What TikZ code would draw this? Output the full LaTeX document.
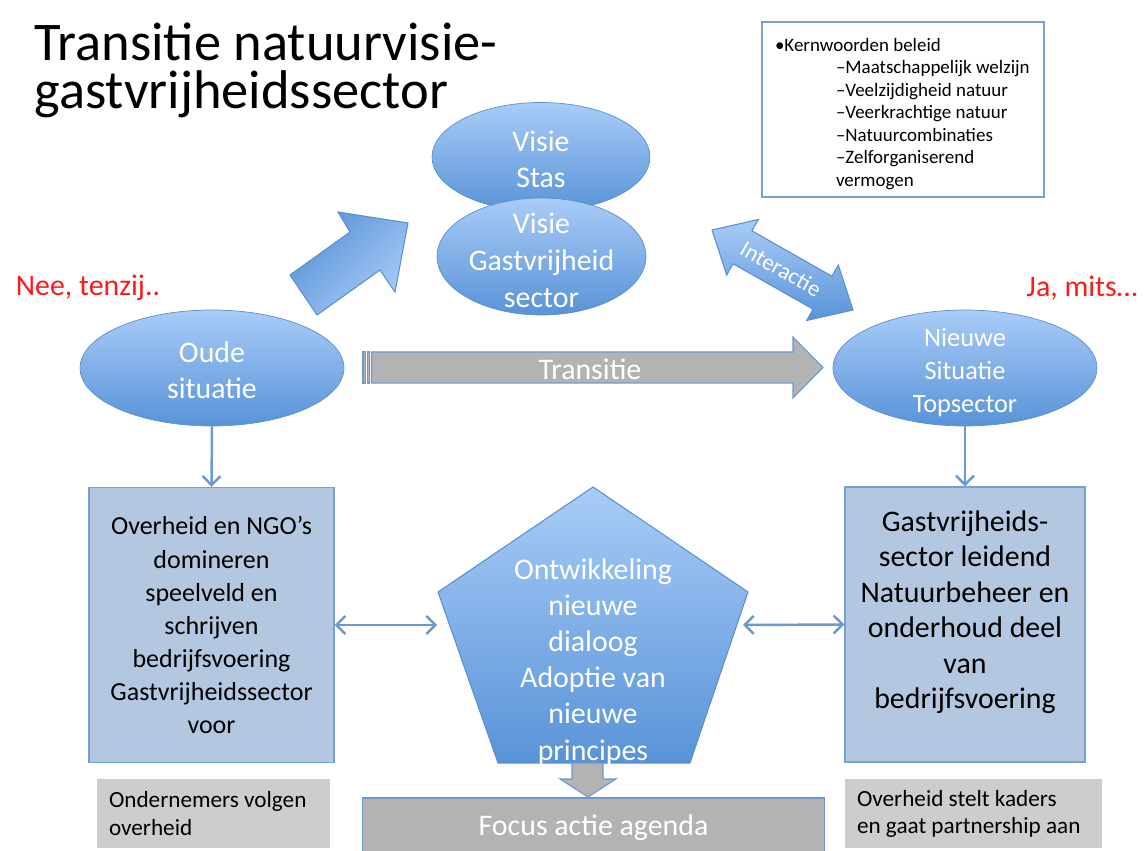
\documentclass[tikz,border=0pt]{standalone}
\usepackage{fontspec}
\setmainfont{Carlito}
\usetikzlibrary{arrows.meta,positioning,shapes.geometric}
\usepackage{xcolor}
\definecolor{cbubtop}{HTML}{A9CCF7}
\definecolor{cbubbot}{HTML}{5893D8}
\definecolor{cbubline}{HTML}{5E8FCC}
\definecolor{cpanel}{HTML}{B4C7E1}
\definecolor{cpanelline}{HTML}{75A0D4}
\definecolor{clink}{HTML}{6D99CF}
\definecolor{cgrey}{HTML}{B3B3B3}
\definecolor{cnote}{HTML}{CDCDCD}
\definecolor{cred}{HTML}{FF1A1A}
\definecolor{ckader}{HTML}{7F9FCC}

\begin{document}
\begin{tikzpicture}[
  x=0.02cm, y=-0.02cm,
  bubble/.style={ellipse, draw=cbubline, top color=cbubtop, bottom color=cbubbot,
                 inner sep=0pt},
  bubbletext/.style={text=white, align=center, inner sep=0pt,
                     font=\fontsize{17}{20.5}\selectfont},
  panel/.style={draw=cpanelline, fill=cpanel, line width=0.8pt,
                minimum width=4.9cm, minimum height=5.5cm},
  paneltext/.style={align=center, inner sep=0pt},
  note/.style={fill=cnote, minimum height=1.38cm, inner xsep=0.24cm,
               align=flush left, font=\fontsize{13.2}{15.4}\selectfont},
  link/.style={draw=clink, line width=1.4pt,
               {Straight Barb[length=1.8mm,width=3.6mm]}-{Straight Barb[length=1.8mm,width=3.6mm]}},
  drop/.style={draw=clink, line width=1.4pt, -{Straight Barb[length=1.8mm,width=3.6mm]}},
  remark/.style={text=cred, font=\fontsize{17}{20}\selectfont},
  blockblue/.style={draw=cbubline, line width=0.6pt},
  blockgrey/.style={draw=clink, fill=cgrey, line width=0.6pt}
]
\useasboundingbox (0,0) rectangle (1144,851);

\node[anchor=north west, inner sep=0pt, align=left,
      font=\fontsize{31}{27.5}\selectfont] (titel) at (34,22)
  {Transitie natuurvisie-\\gastvrijheidssector};

\node[draw=ckader, line width=0.8pt, fill=white, minimum width=5.64cm,
      minimum height=3.5cm] (kernwoorden) at (903,109.5) {};
\node[inner sep=0pt, text width=5.12cm, align=flush left,
      font=\fontsize{10.8}{12.8}\selectfont] (kernwoordentxt) at (903,114)
  {•Kernwoorden beleid\\
   \hspace*{1.22cm}–Maatschappelijk welzijn\\
   \hspace*{1.22cm}–Veelzijdigheid natuur\\
   \hspace*{1.22cm}–Veerkrachtige natuur\\
   \hspace*{1.22cm}–Natuurcombinaties\\
   \hspace*{1.22cm}–Zelforganiserend\\
   \hspace*{1.22cm}vermogen};

\shade[blockblue, top color=cbubbot, bottom color=cbubtop, shading angle=45]
  (290,275) -- (350,232) -- (338,212) -- (408,223) -- (395,292) -- (380,270)
  -- (317,315) -- cycle;

\node[bubble, minimum width=4.36cm, minimum height=2.18cm] (stas) at (541,157) {};
\node[bubbletext] (stastxt) at (541,159) {Visie\\Stas};
\node[bubble, minimum width=4.18cm, minimum height=2.34cm] (gastvrij) at (541.5,256.5) {};
\node[bubbletext, font=\fontsize{17}{21}\selectfont] (gastvrijtxt) at (541.5,260)
  {Visie\\Gastvrijheid\\sector};

\shade[blockblue, top color=cbubtop, bottom color=cbubbot]
  (712,230) -- (758.3,219.5) -- (751.9,230.8) -- (831.9,276.2) -- (838.3,264.9)
  -- (853,310) -- (806.7,320.5) -- (813.1,309.2) -- (733.1,263.8) -- (726.7,275.1) -- cycle;
\node[rotate=-29.6, text=white, inner sep=0pt, font=\fontsize{13}{15}\selectfont]
  (interactie) at (781,269) {Interactie};

\node[remark] (nee) at (88,288) {Nee, tenzij..};
\node[remark] (ja) at (1082,288) {Ja, mits…};

\node[bubble, minimum width=5.28cm, minimum height=2.32cm] (oud) at (212,368) {};
\node[bubbletext] (oudtxt) at (212,370) {Oude\\situatie};
\node[bubble, minimum width=5.28cm, minimum height=2.32cm] (nieuw) at (965,368) {};
\node[bubbletext, font=\fontsize{15}{18.8}\selectfont] (nieuwtxt) at (965,373)
  {Nieuwe\\Situatie\\Topsector};

\filldraw[blockgrey] (363,352) rectangle (365.5,383);
\filldraw[blockgrey] (367.5,352) rectangle (369.5,383);
\filldraw[blockgrey] (371.5,352) -- (793,352) -- (793,337) -- (823,367.5) -- (793,398)
  -- (793,383) -- (371.5,383) -- cycle;
\node[text=white, font=\fontsize{17}{20}\selectfont] (transitie) at (590,369) {Transitie};

\node[panel, align=center, font=\fontsize{14.8}{18.8}\selectfont] (oudbox) at (211.5,625)
  {Overheid en NGO’s\\domineren\\speelveld en\\schrijven\\bedrijfsvoering\\Gastvrijheidssector\\voor};
\node[panel, minimum width=4.8cm] (nieuwbox) at (965,624.5) {};
\node[paneltext, font=\fontsize{17}{20.2}\selectfont] (nieuwboxtxt) at (965,612)
  {Gastvrijheids-\\sector leidend\\Natuurbeheer en\\onderhoud deel\\van\\bedrijfsvoering};

\shade[blockblue, top color=cbubtop, bottom color=cbubbot]
  (593,487) -- (748,592) -- (690,763) -- (498,763) -- (438,592) -- cycle;
\node[bubbletext] (dialoog) at (593,662)
  {Ontwikkeling\\nieuwe\\dialoog\\Adoptie van\\nieuwe\\principes};

\coordinate (dialoogW) at (437,625);
\coordinate (dialoogO) at (743,625);
\draw[link] (oudbox.east) -- (dialoogW);
\draw[link] (dialoogO) -- (nieuwbox.west);
\draw[drop] (oud.south) -- (oudbox.north);
\draw[drop] (nieuw.south) -- (nieuwbox.north);

\node[blockgrey, minimum width=9.26cm, minimum height=1.18cm, text=white,
      font=\fontsize{17}{20}\selectfont] (focus) at (593.5,827.5) {Focus actie agenda};
\filldraw[blockgrey] (572,763) -- (603,763) -- (603,779) -- (616,779) -- (588,797)
  -- (560,779) -- (572,779) -- cycle;

\node[note, text width=4.18cm] (volgen) at (213.5,813.5) {Ondernemers volgen\\overheid};
\node[note, text width=4.66cm] (kaders) at (973.5,813.5) {Overheid stelt kaders\\en gaat partnership aan};
\end{tikzpicture}
\end{document}
